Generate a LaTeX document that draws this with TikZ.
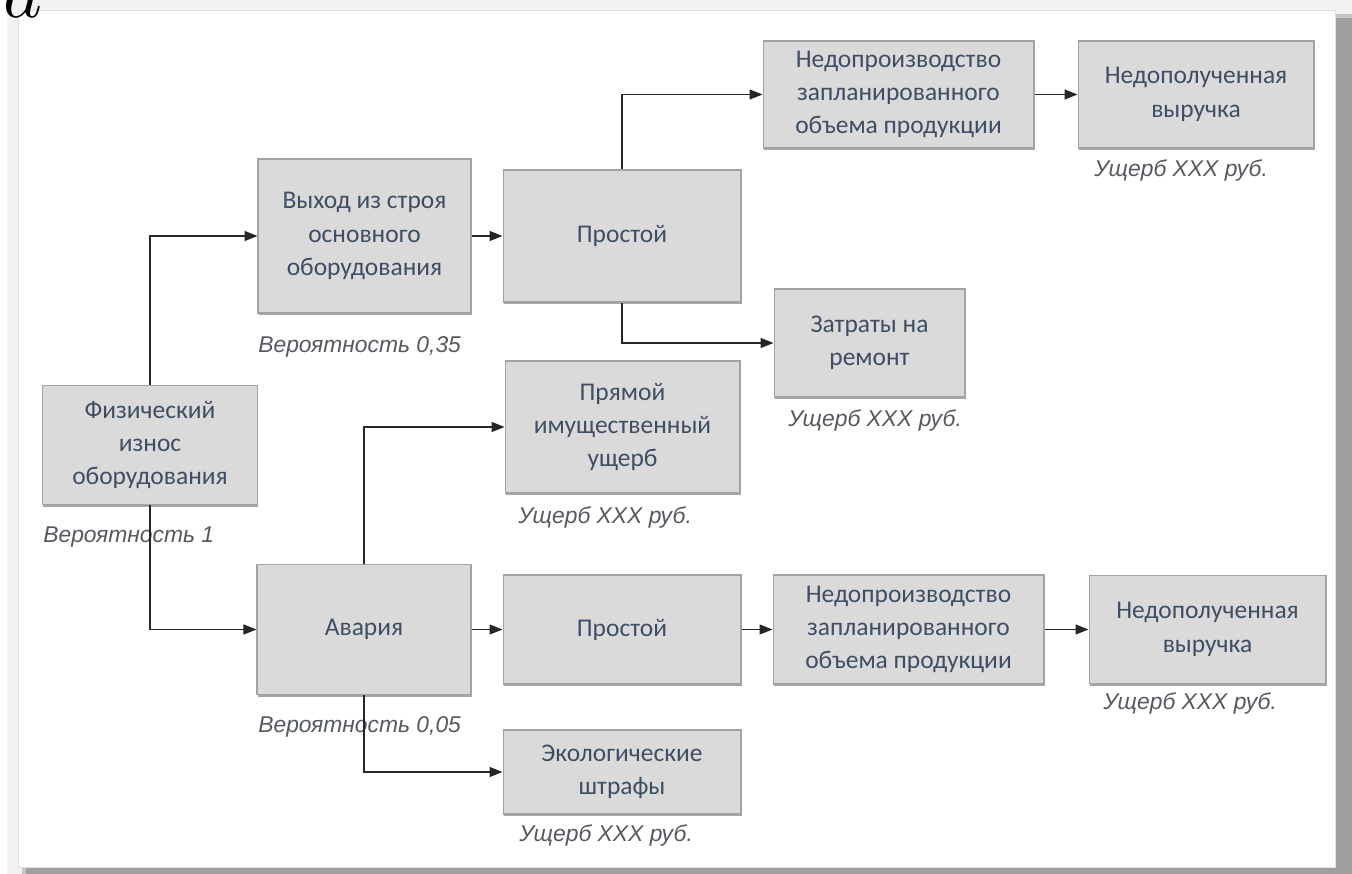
\documentclass[tikz,border=0pt]{standalone}
\usepackage{fontspec}
\setmainfont{Carlito}
\newfontfamily\notefont{Liberation Sans}
\usetikzlibrary{arrows.meta,shadows}
\definecolor{boxfill}{HTML}{DADADA}
\definecolor{boxline}{HTML}{A3A3A3}
\definecolor{boxtext}{HTML}{3F4E63}
\definecolor{notetext}{HTML}{555A60}
\definecolor{linecol}{HTML}{262626}
\begin{document}
\begin{tikzpicture}[x=0.02cm,y=-0.02cm,
    box/.style 2 args={draw=boxline,fill=boxfill,line width=0.6pt,text=boxtext,
      align=center,inner sep=0pt,minimum width=#1,minimum height=#2,
      font=\fontsize{14.5}{19}\selectfont,
      drop shadow={shadow xshift=0.4pt,shadow yshift=-1.2pt,fill=black,opacity=0.35}},
    note/.style={anchor=west,inner sep=0pt,text=notetext,
      font=\notefont\itshape\fontsize{13}{15}\selectfont},
    arr/.style={-{Triangle[length=2.6mm,width=2mm]},draw=linecol,line width=0.75pt}]
   \useasboundingbox (0,0) rectangle (1352,874);
   % frame with its shadow
   \fill[white] (0,0) rectangle (1352,874);
   \fill[gray!10] (7,0) rectangle (1352,874);
   \fill[gray!45] (22,14) rectangle (1352,874);
   \fill[gray!75] (26,18) rectangle (1352,874);
   \fill[white] (18,10) rectangle (1335,867);
   \draw[gray!25] (18,10) rectangle (1335,867);
   \node[anchor=base west,inner sep=0pt,scale=4.2] (letter) at (2,18) {$a$};

   % boxes
   \node[box={4.30cm}{2.38cm}] (phys) at (150,445) {Физический\\износ\\оборудования};
   \node[box={4.26cm}{3.08cm}] (fail) at (364.5,236) {Выход из строя\\основного\\оборудования};
   \node[box={4.76cm}{2.64cm}] (idleA) at (622,236) {Простой};
   \node[box={5.42cm}{2.14cm}] (lossA) at (898.5,94.5) {Недопроизводство\\запланированного\\объема продукции};
   \node[box={4.72cm}{2.14cm}] (revA) at (1196,94.5) {Недополученная\\выручка};
   \node[box={3.82cm}{2.16cm}] (repair) at (869.5,343) {Затраты на\\ремонт};
   \node[box={4.70cm}{2.64cm}] (direct) at (622.5,427) {Прямой\\имущественный\\ущерб};
   \node[box={4.28cm}{2.60cm}] (crash) at (364,629.5) {Авария};
   \node[box={4.76cm}{2.18cm}] (idleB) at (622,629.5) {Простой};
   \node[box={5.42cm}{2.18cm}] (lossB) at (908.5,629.5) {Недопроизводство\\запланированного\\объема продукции};
   \node[box={4.74cm}{2.16cm}] (revB) at (1207.5,629.5) {Недополученная\\выручка};
   \node[box={4.76cm}{1.68cm}] (eco) at (622,772) {Экологические\\штрафы};

   % notes
   \node[note] (pPhys) at (43,537) {Вероятность 1};
   \node[note] (pFail) at (258,347) {Вероятность 0,35};
   \node[note] (pCrash) at (258,727) {Вероятность 0,05};
   \node[note] (dRevA) at (1094,170) {Ущерб ХХХ руб.};
   \node[note] (dRepair) at (788,420) {Ущерб ХХХ руб.};
   \node[note] (dDirect) at (518,517) {Ущерб ХХХ руб.};
   \node[note] (dRevB) at (1103,703) {Ущерб ХХХ руб.};
   \node[note] (dEco) at (519,835) {Ущерб ХХХ руб.};

   % connectors
   \draw[arr] (phys.north) |- (fail.west);
   \draw[arr] (phys.south) |- (crash.west);
   \draw[arr] (fail.east) -- (idleA.west);
   \draw[arr] (idleA.north) |- (lossA.west);
   \draw[arr] (idleA.south) |- (repair.west);
   \draw[arr] (lossA.east) -- (revA.west);
   \draw[arr] (crash.north) |- (direct.west);
   \draw[arr] (crash.south) |- (eco.west);
   \draw[arr] (crash.east) -- (idleB.west);
   \draw[arr] (idleB.east) -- (lossB.west);
   \draw[arr] (lossB.east) -- (revB.west);
\end{tikzpicture}
\end{document}
